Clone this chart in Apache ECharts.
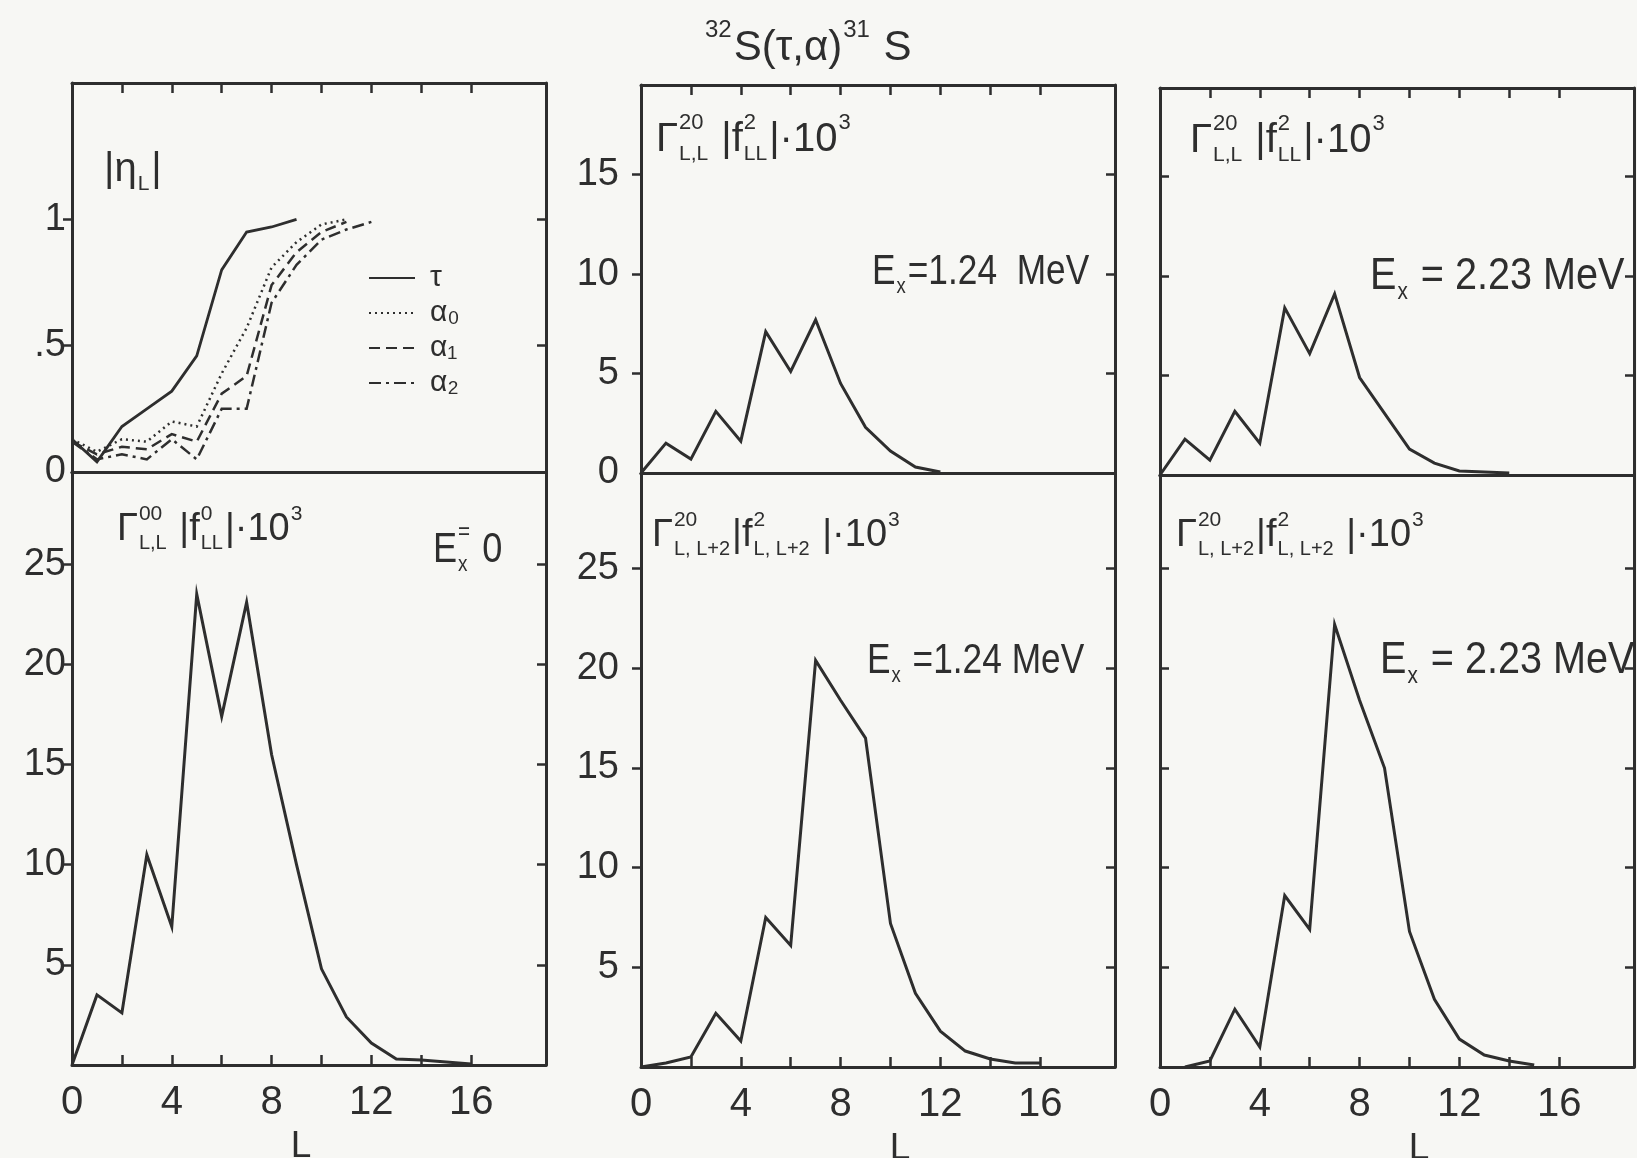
<!DOCTYPE html>
<html>
<head>
<meta charset="utf-8">
<script src="https://cdn.jsdelivr.net/npm/echarts@6/dist/echarts.min.js"></script>
<style>
  html, body { margin: 0; padding: 0; background: #f7f7f4; }
  #chart { width: 1637px; height: 1158px; }
</style>
</head>
<body>
<div id="chart"></div>
<script>
// Angular momentum axis L and tick positions
const L_MAX = 19;
const xTickValues = [2, 4, 6, 8, 10, 12, 14, 16];
const xLabelValues = [0, 4, 8, 12, 16];
const etaTickValues = [0.5, 1];
const etaLabelValues = [0, 0.5, 1];
const upperTickValues = [5, 10, 15];
const upperLabelValues = [0, 5, 10, 15];
const lowerTickValues = [5, 10, 15, 20, 25];

// |eta_L| for the entrance (tau) and exit (alpha0..alpha2) channels, L = 0, 1, 2, ...
const etaTau    = [0.13, 0.04, 0.18, 0.25, 0.32, 0.46, 0.80, 0.95, 0.97, 1.00];
const etaAlpha0 = [0.13, 0.08, 0.13, 0.12, 0.20, 0.18, 0.39, 0.57, 0.81, 0.91, 0.98, 1.00];
const etaAlpha1 = [0.12, 0.07, 0.10, 0.09, 0.15, 0.12, 0.31, 0.38, 0.74, 0.87, 0.95, 0.99];
const etaAlpha2 = [0.12, 0.05, 0.07, 0.05, 0.13, 0.05, 0.25, 0.25, 0.67, 0.82, 0.92, 0.96, 0.99];

// Gamma^00_{L,L} |f^0_{LL}| * 10^3, ground state
const g00Ex0 = [0, 3.5, 2.6, 10.5, 6.9, 23.5, 17.4, 23.1, 15.5, 10.0, 4.8, 2.4, 1.1, 0.3, 0.25, 0.15, 0.05];

// Gamma^20_{L,L} |f^2_{LL}| * 10^3
const g20LLEx124 = [0, 1.5, 0.7, 3.1, 1.6, 7.1, 5.1, 7.7, 4.5, 2.3, 1.1, 0.3, 0.05];
const g20LLEx223 = [0, 1.8, 0.75, 3.2, 1.6, 8.4, 6.1, 9.1, 4.9, 3.1, 1.3, 0.6, 0.2, 0.15, 0.1];

// Gamma^20_{L,L+2} |f^2_{L,L+2}| * 10^3
const g20L2Ex124 = [0, 0.2, 0.5, 2.7, 1.3, 7.5, 6.1, 20.4, 18.4, 16.5, 7.2, 3.7, 1.8, 0.8, 0.4, 0.2, 0.2];
const g20L2Ex223 = [null, 0, 0.3, 2.9, 1.0, 8.6, 6.9, 22.2, 18.4, 15.0, 6.8, 3.4, 1.4, 0.6, 0.3, 0.1];

const FONT = 'Liberation Sans, Arial, sans-serif';
const INK = '#2e2e2e';

function toPairs(values) {
  return values.map((v, i) => [i, v]).filter(p => p[1] !== null);
}

// Panel frames (pixel boxes)
const panels = [
  { left: 72,   top: 83,  width: 474, height: 389, yMax: 1.54, upper: true,  eta: true,  ticks: etaTickValues,   labels: etaLabelValues,   labelMargin: 6 },
  { left: 72,   top: 472, width: 474, height: 593, yMax: 29.6, upper: false, ticks: lowerTickValues, labels: lowerTickValues, labelMargin: 6, namePad: [0, 16, 0, 0] },
  { left: 641,  top: 85,  width: 474, height: 388, yMax: 19.5, upper: true,  ticks: upperTickValues, labels: upperLabelValues, labelMargin: 22 },
  { left: 641,  top: 473, width: 474, height: 594, yMax: 29.8, upper: false, ticks: lowerTickValues, labels: lowerTickValues, labelMargin: 22, namePad: [0, 0, 0, 44] },
  { left: 1160, top: 88,  width: 474, height: 387, yMax: 19.45, upper: true,  ticks: upperTickValues, labels: null },
  { left: 1160, top: 475, width: 474, height: 592, yMax: 29.7, upper: false, ticks: lowerTickValues, labels: null, namePad: [0, 0, 0, 44] }
];

const lineAxis = { show: true, onZero: false, lineStyle: { color: INK, width: 3 } };
const tickStyle = { color: INK, width: 2.5 };
const labelStyle = { fontSize: 38, fontFamily: FONT, color: INK };

const grid = [], xAxis = [], yAxis = [];
panels.forEach((p, gi) => {
  grid.push({ left: p.left, top: p.top, width: p.width, height: p.height, containLabel: false, outerBoundsMode: 'none' });
  // bottom and top x axes
  xAxis.push({
    type: 'value', gridIndex: gi, min: 0, max: L_MAX, position: 'bottom',
    axisLine: lineAxis, splitLine: { show: false },
    axisTick: { show: !p.upper, inside: true, length: 10, lineStyle: tickStyle, customValues: xTickValues },
    axisLabel: { show: !p.upper, customValues: xLabelValues, margin: 18, ...labelStyle, fontSize: 40 },
    name: p.upper ? '' : 'L', nameLocation: 'middle', nameGap: 57,
    nameTextStyle: { fontSize: 37, fontFamily: FONT, color: INK, padding: p.namePad || 0 }
  });
  xAxis.push({
    type: 'value', gridIndex: gi, min: 0, max: L_MAX, position: 'top',
    axisLine: lineAxis, splitLine: { show: false },
    axisTick: { show: p.upper, inside: true, length: 10, lineStyle: tickStyle, customValues: xTickValues },
    axisLabel: { show: false }
  });
  // left and right y axes
  yAxis.push({
    type: 'value', gridIndex: gi, min: 0, max: p.yMax, position: 'left',
    axisLine: lineAxis, splitLine: { show: false },
    axisTick: { show: true, inside: !p.labels, length: 9, lineStyle: tickStyle, customValues: p.ticks },
    axisLabel: p.labels ? {
      show: true, customValues: p.labels, margin: p.labelMargin, ...labelStyle,
      formatter: v => (p.eta && v === 0.5) ? '.5' : String(v)
    } : { show: false }
  });
  yAxis.push({
    type: 'value', gridIndex: gi, min: 0, max: p.yMax, position: 'right',
    axisLine: lineAxis, splitLine: { show: false },
    axisTick: { show: true, inside: true, length: 9, lineStyle: tickStyle, customValues: p.ticks },
    axisLabel: { show: false }
  });
});

function curve(name, values, gi, type, width) {
  return {
    name, type: 'line', xAxisIndex: gi * 2, yAxisIndex: gi * 2,
    data: toPairs(values), symbol: 'none', silent: true, animation: false,
    itemStyle: { color: INK },
    lineStyle: { color: INK, width: width || 3, type: type || 'solid', join: 'miter' }
  };
}

const series = [
  curve('τ',  etaTau,    0, 'solid', 2.8),
  curve('α₀', etaAlpha0, 0, [2, 4], 2.5),
  curve('α₁', etaAlpha1, 0, [11, 6], 2.5),
  curve('α₂', etaAlpha2, 0, [12, 5, 3, 5], 2.5),
  curve('E0',    g00Ex0,     1),
  curve('LL124', g20LLEx124, 2),
  curve('L2124', g20L2Ex124, 3),
  curve('LL223', g20LLEx223, 4),
  curve('L2223', g20L2Ex223, 5)
];

// Text with superscripts and subscripts, laid out token by token;
// `squeeze` narrows the glyphs horizontally
const measureCtx = document.createElement('canvas').getContext('2d');
function textWidth(str, size) {
  measureCtx.font = size + 'px ' + FONT;
  return measureCtx.measureText(str).width;
}
function piece(x, y, str, size, squeeze) {
  return {
    type: 'text', x, y, scaleX: squeeze, silent: true,
    style: { text: str, fontSize: size, fontFamily: FONT, fill: INK,
             align: 'left', verticalAlign: 'middle', textAlign: 'left', textVerticalAlign: 'middle' }
  };
}
function mathLabel(x, y, tokens, size, squeeze) {
  squeeze = squeeze || 1;
  const supSize = Math.round(size * 0.56), subSize = Math.round(size * 0.52);
  const out = [];
  let cx = x;
  tokens.forEach(tok => {
    if (tok.t !== undefined) {
      out.push(piece(cx, y, tok.t, size, squeeze));
      cx += textWidth(tok.t, size) * squeeze;
    } else {
      let w = 0;
      if (tok.sup) { out.push(piece(cx + 1, y - size * 0.42, tok.sup, supSize, squeeze)); w = Math.max(w, textWidth(tok.sup, supSize)); }
      if (tok.sub) { out.push(piece(cx + 1, y + size * 0.36, tok.sub, subSize, squeeze)); w = Math.max(w, textWidth(tok.sub, subSize)); }
      cx += w * squeeze + 3;
    }
  });
  return out;
}

const labelLL = (sup, fsup) => [
  { t: 'Γ' }, { sup, sub: 'L,L' }, { t: ' |f' }, { sup: fsup, sub: 'LL' }, { t: '|·10' }, { sup: '3' }
];
const labelL2 = [
  { t: 'Γ' }, { sup: '20', sub: 'L, L+2' }, { t: '|f' }, { sup: '2', sub: 'L, L+2' }, { t: ' |·10' }, { sup: '3' }
];
const exLabel = rest => [{ t: 'E' }, { sub: 'x' }, { t: rest }];

const graphic = [].concat(
  mathLabel(704, 48, [{ sup: '32' }, { t: 'S(τ,α)' }, { sup: '31' }, { t: ' S' }], 42),
  mathLabel(104, 170, [{ t: '|η' }, { sub: 'L' }, { t: '|' }], 40),
  mathLabel(656, 140, labelLL('20', '2'), 40),
  mathLabel(1190, 141, labelLL('20', '2'), 40),
  mathLabel(117, 530, labelLL('00', '0'), 38),
  mathLabel(652, 536, labelL2, 38),
  mathLabel(1176, 536, labelL2, 38),
  mathLabel(872, 272, exLabel('=1.24  MeV'), 42, 0.84),
  mathLabel(1370, 277, exLabel(' = 2.23 MeV'), 44, 0.9),
  mathLabel(433, 550, [{ t: 'E' }, { sup: '=', sub: 'x' }, { t: ' 0' }], 42, 0.86),
  mathLabel(867, 661, exLabel(' =1.24 MeV'), 42, 0.84),
  mathLabel(1380, 661, exLabel(' = 2.23 MeV'), 44, 0.9)
);

const chart = echarts.init(document.getElementById('chart'), null, { renderer: 'canvas' });
chart.setOption({
  backgroundColor: '#f7f7f4',
  animation: false,
  textStyle: { fontFamily: FONT, color: INK },
  grid, xAxis, yAxis, series, graphic,
  legend: {
    data: ['τ', 'α₀', 'α₁', 'α₂'],
    orient: 'vertical', left: 363, top: 258,
    itemWidth: 46, itemHeight: 14, itemGap: 5,
    selectedMode: false,
    itemStyle: { opacity: 0 },
    textStyle: { fontSize: 30, lineHeight: 30, fontFamily: FONT, color: INK, padding: [0, 0, 0, 10] }
  }
});
</script>
</body>
</html>
